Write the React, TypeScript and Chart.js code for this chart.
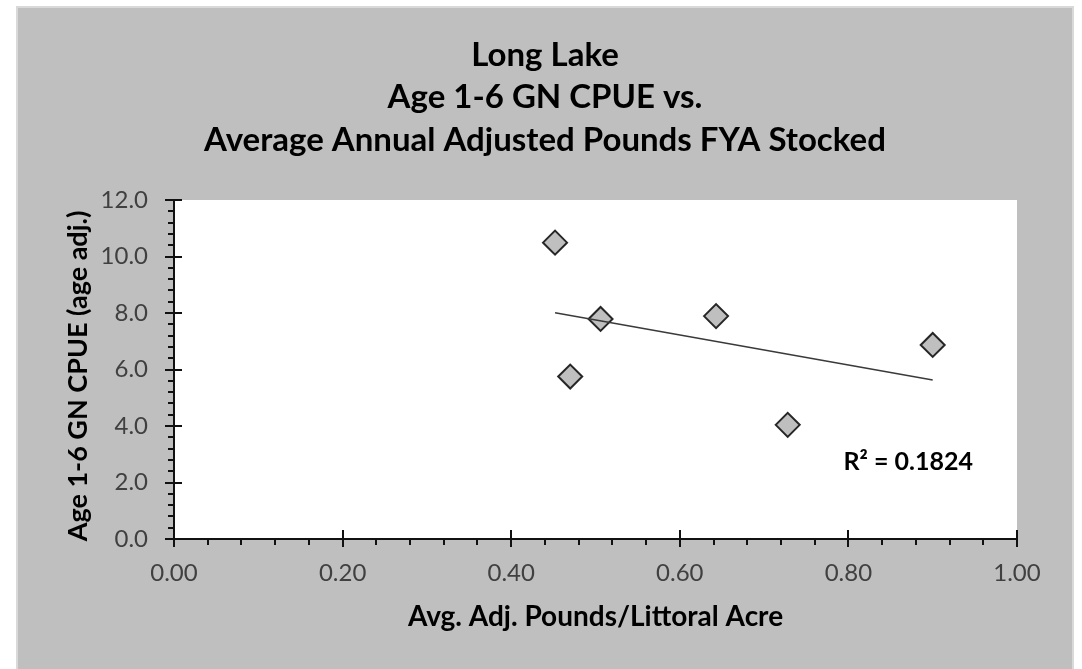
import React, { useEffect, useRef } from "react";
import { Chart, registerables } from "chart.js";

Chart.register(...registerables);

const titleLines = ["Long Lake", "Age 1-6 GN CPUE vs.", "Average Annual Adjusted Pounds FYA Stocked"];
const xAxisTitle = "Avg. Adj. Pounds/Littoral Acre";
const yAxisTitle = "Age 1-6 GN CPUE (age adj.)";

const poundsPerAcre = [0.452, 0.506, 0.470, 0.643, 0.728, 0.900];
const cpue = [10.49, 7.79, 5.75, 7.89, 4.04, 6.87];

const trendX = [0.452, 0.900];
const trendY = [8.01, 5.63];

const r2Label = "R² = 0.1824";
const r2At = { x: 0.871, y: 2.73 };

const xMin = 0, xMax = 1, xMajor = 0.2, xMinorCount = 5;
const yMin = 0, yMax = 12, yMajor = 2, yMinorCount = 5;

const FONT = "Lato, 'Open Sans', sans-serif";

const decorPlugin = {
  id: "decor",
  beforeDraw(chart: any) {
    const { ctx, chartArea: a } = chart;
    ctx.save();
    ctx.fillStyle = "#ffffff";
    ctx.fillRect(0, 0, chart.width, chart.height);
    ctx.fillStyle = "#d9d9d9";
    ctx.fillRect(16, 6, 1058, 663);
    ctx.fillStyle = "#bfbfbf";
    ctx.fillRect(18, 8, 1054, 661);
    ctx.fillStyle = "#ffffff";
    ctx.fillRect(a.left, a.top, a.right - a.left, a.bottom - a.top);
    ctx.restore();
  },
  afterDraw(chart: any) {
    const { ctx, chartArea: a, scales } = chart;
    const xs = scales.x, ys = scales.y;
    ctx.save();
    ctx.strokeStyle = "#111111";
    ctx.lineWidth = 2;
    ctx.beginPath();
    ctx.moveTo(a.left, a.top);
    ctx.lineTo(a.left, a.bottom);
    ctx.lineTo(a.right, a.bottom);
    ctx.stroke();
    const xN = Math.round((xMax - xMin) / xMajor) * xMinorCount;
    for (let i = 0; i <= xN; i++) {
      const v = xMin + (i * xMajor) / xMinorCount;
      const px = Math.round(xs.getPixelForValue(v));
      ctx.beginPath();
      if (i % xMinorCount === 0) {
        ctx.moveTo(px, a.bottom - 9);
        ctx.lineTo(px, a.bottom + 8);
      } else {
        ctx.moveTo(px, a.bottom);
        ctx.lineTo(px, a.bottom + 6);
      }
      ctx.stroke();
    }
    const yN = Math.round((yMax - yMin) / yMajor) * yMinorCount;
    for (let i = 0; i <= yN; i++) {
      const v = yMin + (i * yMajor) / yMinorCount;
      const py = Math.round(ys.getPixelForValue(v));
      ctx.beginPath();
      if (i % yMinorCount === 0) {
        ctx.moveTo(a.left - 9, py);
        ctx.lineTo(a.left + 8, py);
      } else {
        ctx.moveTo(a.left - 6, py);
        ctx.lineTo(a.left, py);
      }
      ctx.stroke();
    }
    ctx.fillStyle = "#000000";
    ctx.textAlign = "center";
    ctx.textBaseline = "alphabetic";
    ctx.font = `bold 33px ${FONT}`;
    const baselines = [66, 108, 151];
    titleLines.forEach((t, i) => ctx.fillText(t, 545, baselines[i]));
    ctx.textBaseline = "middle";
    ctx.font = `bold 28px ${FONT}`;
    ctx.fillText(xAxisTitle, (a.left + a.right) / 2, 617);
    ctx.font = `bold 27px ${FONT}`;
    ctx.save();
    ctx.translate(78, 376);
    ctx.rotate(-Math.PI / 2);
    ctx.fillText(yAxisTitle, 0, 0);
    ctx.restore();
    ctx.font = `bold 25px ${FONT}`;
    ctx.fillText(r2Label, xs.getPixelForValue(r2At.x), ys.getPixelForValue(r2At.y));
    ctx.restore();
  },
};

export default function App() {
  const ref = useRef<HTMLCanvasElement | null>(null);
  useEffect(() => {
    if (!ref.current) return;
    const chart = new Chart(ref.current, {
      type: "scatter",
      data: {
        datasets: [
          {
            type: "line",
            label: "Trend",
            data: trendX.map((x, i) => ({ x, y: trendY[i] })),
            borderColor: "#3a3a3a",
            borderWidth: 1.5,
            pointRadius: 0,
            fill: false,
            order: 0,
          } as any,
          {
            label: "CPUE",
            data: poundsPerAcre.map((x, i) => ({ x, y: cpue[i] })),
            pointStyle: "rectRot",
            pointRadius: 12,
            pointHoverRadius: 12,
            backgroundColor: "#bfbfbf",
            borderColor: "#262626",
            borderWidth: 2,
            order: 1,
          },
        ],
      },
      options: {
        responsive: false,
        animation: false,
        events: [],
        layout: { padding: { top: 200, right: 65, left: 0, bottom: 0 } },
        plugins: {
          legend: { display: false },
          title: { display: false },
          tooltip: { enabled: false },
        },
        scales: {
          x: {
            type: "linear",
            min: xMin,
            max: xMax,
            grid: { display: false, drawTicks: false },
            border: { display: false },
            ticks: {
              stepSize: xMajor,
              callback: (v: any) => Number(v).toFixed(2),
              color: "#404040",
              font: { family: FONT, size: 24 },
              padding: 20,
              maxRotation: 0,
            },
            afterFit: (s: any) => {
              s.height = 130;
            },
          },
          y: {
            type: "linear",
            min: yMin,
            max: yMax,
            grid: { display: false, drawTicks: false },
            border: { display: false },
            ticks: {
              stepSize: yMajor,
              callback: (v: any) => Number(v).toFixed(1),
              color: "#404040",
              font: { family: FONT, size: 24 },
              padding: 26,
            },
            afterFit: (s: any) => {
              s.width = 174;
            },
          },
        },
      },
      plugins: [decorPlugin],
    });
    return () => chart.destroy();
  }, []);
  return (
    <div style={{ position: "fixed", left: 0, top: 0, width: 1082, height: 669 }}>
      <canvas ref={ref} width={1082} height={669} style={{ display: "block" }} />
    </div>
  );
}
